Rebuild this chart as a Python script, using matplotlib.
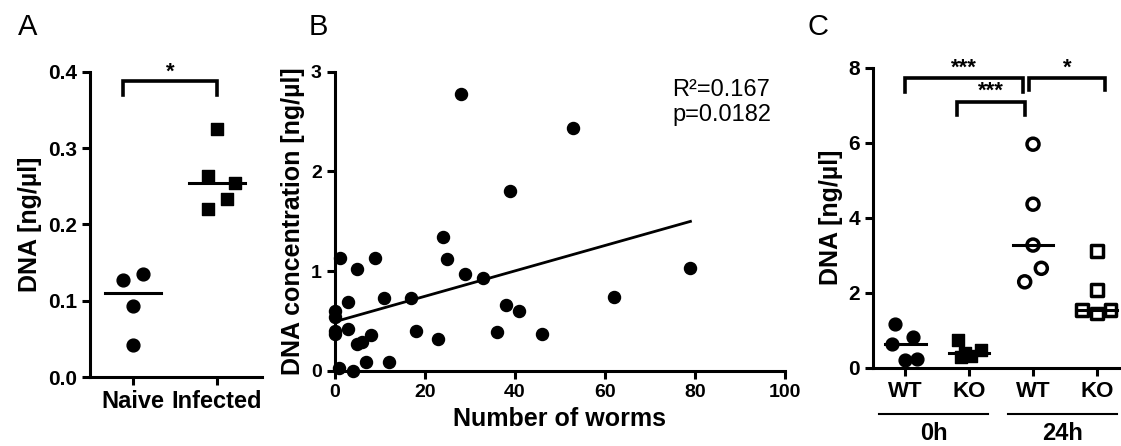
import numpy as np
import matplotlib
matplotlib.use('Agg')
import matplotlib.pyplot as plt
from matplotlib.transforms import blended_transform_factory

plt.rcParams['font.family'] = ['Liberation Sans', 'DejaVu Sans']
plt.rcParams['font.weight'] = 'bold'

# panel A
a_groups = ['Naive', 'Infected']
a_naive = [0.127, 0.135, 0.093, 0.042]
a_infected = [0.325, 0.264, 0.255, 0.234, 0.220]

# panel B
b_worms = [28, 53, 39, 24, 1.2, 9, 25, 5, 29, 33, 3, 11, 17, 38, 41,
           0, 0, 0, 0, 3, 18, 23, 36, 46, 5, 6, 8, 7, 12, 1, 4, 62, 79]
b_dna = [2.78, 2.44, 1.80, 1.34, 1.13, 1.13, 1.12, 1.02, 0.97, 0.93, 0.69,
         0.73, 0.73, 0.66, 0.60, 0.60, 0.54, 0.40, 0.37, 0.42, 0.40, 0.32,
         0.39, 0.37, 0.27, 0.29, 0.36, 0.09, 0.09, 0.03, 0.0, 0.745, 1.035]
b_stats = 'R²=0.167\np=0.0182'

# panel C
c_labels = ['WT', 'KO', 'WT', 'KO']
c_times = ['0h', '24h']
c_wt0 = [1.17, 0.63, 0.81, 0.20, 0.22]
c_ko0 = [0.74, 0.47, 0.38, 0.30, 0.28]
c_wt24 = [5.96, 4.36, 3.27, 2.65, 2.29]
c_ko24 = [3.12, 2.07, 1.54, 1.45, 1.54]

# jitter (layout only)
jit_a0 = [-0.12, 0.12, 0.0, 0.0]
jit_a1 = [0.0, -0.11, 0.22, 0.12, -0.11]
jit_c = [[-0.16, -0.21, 0.13, 0.0, 0.19],
         [-0.18, 0.19, -0.07, 0.03, -0.12],
         [0.0, 0.0, 0.0, 0.13, -0.13],
         [0.0, 0.0, -0.23, 0.0, 0.21]]

LW = 2.2

fig = plt.figure(figsize=(11.21, 4.46), dpi=100)


def style(ax, fs):
    for s in ['top', 'right']:
        ax.spines[s].set_visible(False)
    for s in ['left', 'bottom']:
        ax.spines[s].set_linewidth(LW)
    ax.tick_params(width=LW, length=6, labelsize=fs, direction='out')


def bracket(ax, x0, x1, ytop, ybot0, ybot1, star, ystar):
    ax.plot([x0, x0, x1, x1], [ybot0, ytop, ytop, ybot1], color='black',
            lw=LW + 0.4, clip_on=False, solid_joinstyle='miter')
    ax.text((x0 + x1) / 2, ystar, star, ha='center', va='center',
            fontsize=16, fontweight='bold')


# ---- A
axA = fig.add_axes([0.0803, 0.1547, 0.1534, 0.6839])
style(axA, 15)
axA.scatter(np.array(jit_a0) + 0, a_naive, s=85, marker='o', color='black', zorder=3)
axA.scatter(np.array(jit_a1) + 1, a_infected, s=85, marker='s', color='black', zorder=3)
for i, vals in enumerate([a_naive, a_infected]):
    m = np.median(vals)
    axA.plot([i - 0.33, i + 0.33], [m, m], color='black', lw=LW)
axA.set_xlim(-0.512, 1.536)
axA.set_ylim(0, 0.4)
axA.set_yticks([0, 0.1, 0.2, 0.3, 0.4])
axA.set_yticklabels(['0.0', '0.1', '0.2', '0.3', '0.4'])
axA.set_xticks([0, 1])
axA.set_xticklabels(a_groups, fontsize=17)
axA.set_ylabel('DNA [ng/µl]', fontsize=18, fontweight='bold')
bracket(axA, -0.12, 1.0, 0.388, 0.370, 0.370, '*', 0.40)

# ---- B
axB = fig.add_axes([0.2988, 0.1682, 0.4014, 0.6710])
style(axB, 14)
axB.scatter(b_worms, b_dna, s=75, color='black', zorder=3, clip_on=False)
k, c0 = np.polyfit(b_worms, b_dna, 1)
xs = np.array([0, max(b_worms)])
axB.plot(xs, k * xs + c0, color='black', lw=2)
axB.set_xlim(0, 100)
axB.set_ylim(0, 3)
axB.set_xticks(range(0, 101, 20))
axB.set_yticks([0, 1, 2, 3])
axB.set_xlabel('Number of worms', fontsize=18, fontweight='bold')
axB.set_ylabel('DNA concentration [ng/µl]', fontsize=18, fontweight='bold')
axB.text(0.749, 0.975, b_stats, transform=axB.transAxes, ha='left', va='top',
         fontsize=17, fontweight='normal', linespacing=1.15)

# ---- C
axC = fig.add_axes([0.7788, 0.1756, 0.2212, 0.6726])
style(axC, 15)
c_sets = [c_wt0, c_ko0, c_wt24, c_ko24]
c_marks = [('o', 'black', 85, 1.0), ('s', 'black', 85, 1.0),
           ('o', 'none', 75, 2.5), ('s', 'none', 70, 2.5)]
for i, (vals, (mk, fc, sz, lw)) in enumerate(zip(c_sets, c_marks)):
    xx = np.array(jit_c[i]) + i + 1
    axC.scatter(xx, vals, s=sz, marker=mk, facecolors=fc, edgecolors='black',
                linewidths=lw, zorder=3, clip_on=False)
    m = np.median(vals)
    axC.plot([i + 1 - 0.32, i + 1 + 0.32], [m, m], color='black', lw=LW, zorder=4)
axC.set_xlim(0.5, 4.375)
axC.set_ylim(0, 8)
axC.set_yticks([0, 2, 4, 6, 8])
axC.set_xticks([1, 2, 3, 4])
axC.set_xticklabels(c_labels, fontsize=16)
axC.set_ylabel('DNA [ng/µl]', fontsize=18, fontweight='bold')
bracket(axC, 1.0, 2.84, 7.72, 7.36, 7.36, '***', 7.98)
bracket(axC, 1.81, 2.875, 7.09, 6.74, 6.74, '***', 7.38)
bracket(axC, 2.94, 4.12, 7.72, 7.40, 7.40, '*', 7.98)
tr = blended_transform_factory(axC.transData, axC.transAxes)
for (x0, x1), lab in zip([(0.594, 2.297), (2.61, 4.31)], c_times):
    axC.plot([x0, x1], [-0.154, -0.154], color='black', lw=1.5,
             transform=tr, clip_on=False)
    axC.text((x0 + x1) / 2, -0.22, lab, transform=tr, ha='center', va='center',
             fontsize=17, fontweight='bold')

# panel letters
for x, lab in [(0.016, 'A'), (0.275, 'B'), (0.72, 'C')]:
    fig.text(x, 0.97, lab, fontsize=21, fontweight='normal', va='top')

fig.savefig('out.png', dpi=100)
